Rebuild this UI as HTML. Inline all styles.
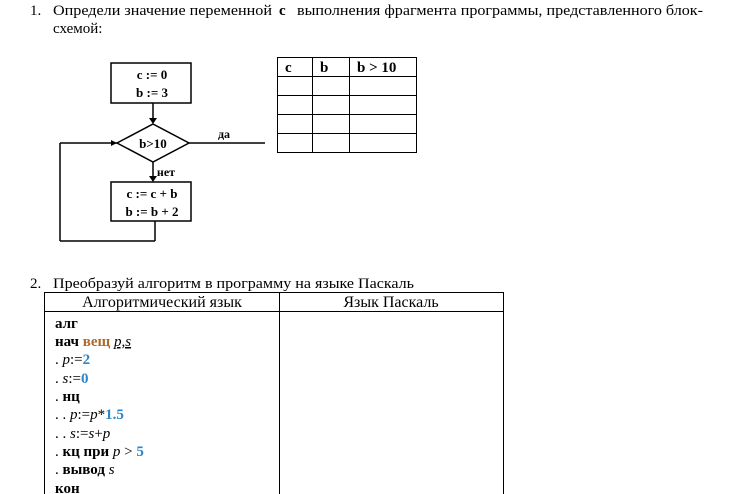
<!DOCTYPE html>
<html><head><meta charset="utf-8"><style>
html,body{margin:0;padding:0;background:#fff;}
svg{display:block;font-family:"Liberation Serif",serif;}
</style></head><body>
<svg width="748" height="494" viewBox="0 0 748 494" xmlns="http://www.w3.org/2000/svg">
<rect width="748" height="494" fill="#fff"/>
<g font-size="15" fill="#000">
<text x="30" y="15">1.</text>
<text x="53" y="15" textLength="219" lengthAdjust="spacingAndGlyphs">Определи значение переменной</text>
<text x="279" y="15" font-weight="bold">c</text>
<text x="297" y="15" textLength="406" lengthAdjust="spacingAndGlyphs">выполнения фрагмента программы, представленного блок-</text>
<text x="53" y="33">схемой:</text>
<text x="30" y="288">2.</text>
<text x="53" y="288" textLength="361" lengthAdjust="spacingAndGlyphs">Преобразуй алгоритм в программу на языке Паскаль</text>
</g>
<!-- flowchart -->
<g stroke="#000" stroke-width="1.5" fill="none">
<rect x="111" y="63" width="80" height="40"/>
<line x1="153" y1="103" x2="153" y2="122"/>
<polygon points="153,124 189,143 153,162 117,143"/>
<line x1="189" y1="143" x2="265" y2="143"/>
<line x1="117" y1="143" x2="60" y2="143"/>
<line x1="60" y1="143" x2="60" y2="241"/>
<line x1="60" y1="241" x2="155" y2="241"/>
<line x1="155" y1="241" x2="155" y2="221"/>
<line x1="153" y1="162" x2="153" y2="180"/>
<rect x="111" y="182" width="80" height="39"/>
</g>
<g fill="#000">
<polygon points="149,118 157,118 153,124"/>
<polygon points="149,176 157,176 153,182"/>
<polygon points="111,140 111,146 117,143"/>
</g>
<g font-size="13" font-weight="bold" text-anchor="middle" fill="#000">
<text x="152" y="79">c := 0</text>
<text x="152" y="97">b := 3</text>
<text x="153" y="148">b&gt;10</text>
<text x="152" y="198">c := c + b</text>
<text x="152" y="216">b := b + 2</text>
<text x="224" y="138" font-size="12">да</text>
<text x="166" y="176" font-size="12">нет</text>
</g>
<!-- table 1 -->
<g stroke="#000" stroke-width="1" fill="none">
<rect x="277.5" y="57.5" width="139" height="95"/>
<line x1="312.5" y1="57" x2="312.5" y2="152"/>
<line x1="349.5" y1="57" x2="349.5" y2="152"/>
<line x1="277" y1="76.5" x2="416" y2="76.5"/>
<line x1="277" y1="95.5" x2="416" y2="95.5"/>
<line x1="277" y1="114.5" x2="416" y2="114.5"/>
<line x1="277" y1="133.5" x2="416" y2="133.5"/>
</g>
<g font-size="15" font-weight="bold" fill="#000">
<text x="285" y="72">c</text>
<text x="320" y="72">b</text>
<text x="357" y="72">b &gt; 10</text>
</g>
<!-- table 2 -->
<g stroke="#000" stroke-width="1" fill="none">
<rect x="44.5" y="292.5" width="459" height="210"/>
<line x1="279.5" y1="292" x2="279.5" y2="494"/>
<line x1="44" y1="311.5" x2="503" y2="311.5"/>
</g>
<g font-size="16" fill="#000" text-anchor="middle">
<text x="162" y="307">Алгоритмический язык</text>
<text x="391" y="307">Язык Паскаль</text>
</g>
<g font-size="15" fill="#000">
<text x="55" y="328" font-weight="bold">алг</text>
<text x="55" y="346"><tspan font-weight="bold">нач </tspan><tspan font-weight="bold" fill="#b06a28">вещ </tspan><tspan font-style="italic" text-decoration="underline">p,s</tspan></text>
<text x="55" y="364">. <tspan font-style="italic">p</tspan>:=<tspan font-weight="bold" fill="#2a86c8">2</tspan></text>
<text x="55" y="383">. <tspan font-style="italic">s</tspan>:=<tspan font-weight="bold" fill="#2a86c8">0</tspan></text>
<text x="55" y="401">. <tspan font-weight="bold">нц</tspan></text>
<text x="55" y="419">. . <tspan font-style="italic">p</tspan>:=<tspan font-style="italic">p</tspan>*<tspan font-weight="bold" fill="#2a86c8">1.5</tspan></text>
<text x="55" y="438">. . <tspan font-style="italic">s</tspan>:=<tspan font-style="italic">s</tspan>+<tspan font-style="italic">p</tspan></text>
<text x="55" y="456">. <tspan font-weight="bold">кц при </tspan><tspan font-style="italic">p</tspan> &gt; <tspan font-weight="bold" fill="#2a86c8">5</tspan></text>
<text x="55" y="474">. <tspan font-weight="bold">вывод </tspan><tspan font-style="italic">s</tspan></text>
<text x="55" y="493" font-weight="bold">кон</text>
</g>
</svg>
</body></html>
